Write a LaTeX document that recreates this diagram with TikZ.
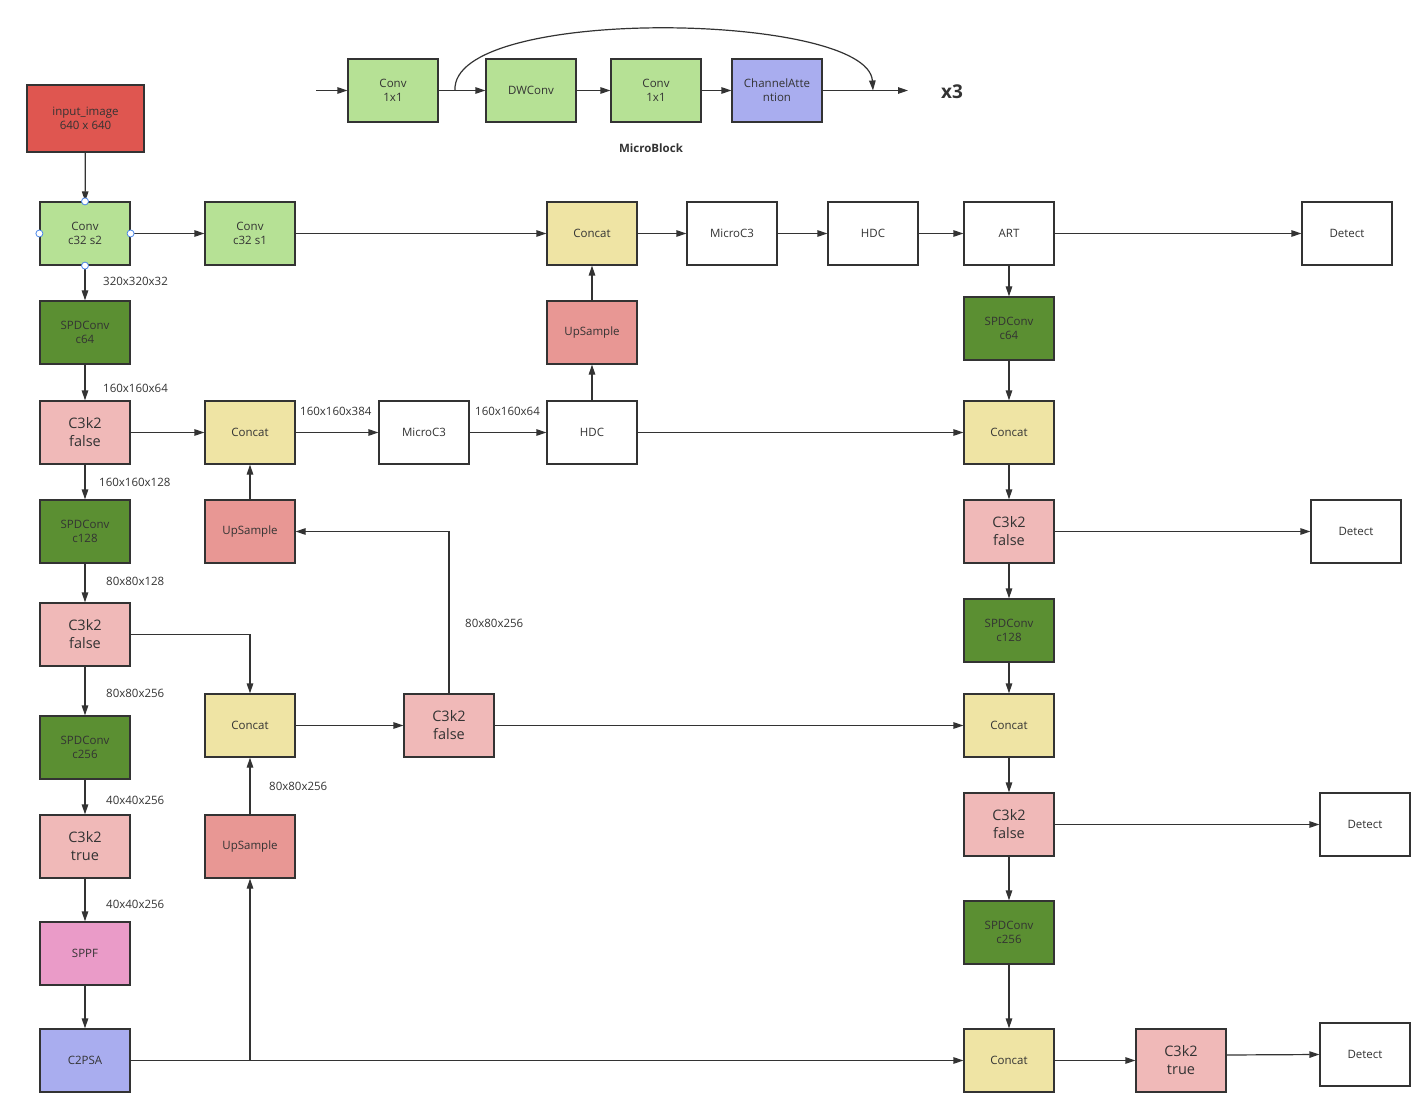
\documentclass[tikz,border=0pt]{standalone}
\usepackage{fontspec}
\setmainfont{Open Sans}
\usetikzlibrary{arrows.meta}
\definecolor{bordc}{HTML}{333333}
\definecolor{txtc}{HTML}{333333}
\definecolor{linec}{HTML}{333333}
\definecolor{convc}{HTML}{B6E195}
\definecolor{inc}{HTML}{DF5650}
\definecolor{spdc}{HTML}{5B8F32}
\definecolor{pinkc}{HTML}{F0B9B8}
\definecolor{catc}{HTML}{EFE4A4}
\definecolor{upc}{HTML}{E89794}
\definecolor{sppfc}{HTML}{EA9BC8}
\definecolor{psac}{HTML}{A9ADEF}
\definecolor{handc}{HTML}{4A86E8}
\begin{document}
\begin{tikzpicture}[x=1pt,y=-1pt,
  blk/.style={draw=bordc, line width=1.2pt, minimum width=90pt, minimum height=63pt, inner sep=0pt, align=center, font=\fontsize{11.5}{14}\selectfont, text=txtc},
  wbox/.style={blk, fill=white},
  conv/.style={blk, fill=convc},
  spd/.style={blk, fill=spdc},
  c3/.style={blk, fill=pinkc, font=\fontsize{14.5}{18}\selectfont},
  cat/.style={blk, fill=catc},
  ups/.style={blk, fill=upc},
  arr/.style={draw=linec, line width=1.2pt, -{Triangle[length=10pt,width=6.5pt]}},
  lbl/.style={font=\fontsize{11.5}{14}\selectfont, text=txtc, inner sep=0pt, anchor=west},
  handle/.style={circle, draw=handc, fill=white, line width=0.8pt, minimum size=7pt, inner sep=0pt}
]
\useasboundingbox (0,0) rectangle (1425,1102);

% MicroBlock
\coordinate (mbin) at (316,90.5);
\node[conv] (mb1) at (393,90.5) {Conv\\1x1};
\node[conv] (mb2) at (531,90.5) {DWConv};
\node[conv] (mb3) at (656,90.5) {Conv\\1x1};
\node[blk, fill=psac] (mb4) at (777,90.5) {ChannelAtte\\ntion};
\coordinate (mbsplit) at (455,90.5);
\coordinate (mbjoin) at (873,90.5);
\coordinate (mbout) at (908,90.5);
\node[font=\bfseries\fontsize{19}{22}\selectfont, text=txtc] (x3) at (952,92) {x3};
\node[font=\bfseries\fontsize{11.5}{14}\selectfont, text=txtc] (mbl) at (651,148) {MicroBlock};
\draw[arr] (mbin) -- (mb1);
\draw[arr] (mb1) -- (mb2);
\draw[arr] (mb2) -- (mb3);
\draw[arr] (mb3) -- (mb4);
\draw[arr] (mb4) -- (mbout);
\draw[arr] (mbsplit) .. controls (450,5) and (868,12) .. (mbjoin);

% Left column
\node[blk, fill=inc, minimum width=117pt, minimum height=67pt] (inp) at (85.5,118.5) {input\_image\\640 x 640};
\node[conv] (cv1) at (85,233.5) {Conv\\c32 s2};
\node[spd] (spd64) at (85,332.5) {SPDConv\\c64};
\node[c3] (c3a) at (85,432.5) {C3k2\\false};
\node[spd] (spd128) at (85,531.5) {SPDConv\\c128};
\node[c3] (c3b) at (85,634.5) {C3k2\\false};
\node[spd] (spd256) at (85,747.5) {SPDConv\\c256};
\node[c3] (c3t) at (85,846.5) {C3k2\\true};
\node[blk, fill=sppfc] (sppf) at (85,953.5) {SPPF};
\node[blk, fill=psac] (psa) at (85,1060.5) {C2PSA};

% second column
\node[conv] (cv2) at (250,233.5) {Conv\\c32 s1};
\node[cat] (cat2) at (250,432.5) {Concat};
\node[ups] (up2) at (250,531.5) {UpSample};
\node[cat] (cat3) at (250,725.5) {Concat};
\node[ups] (up3) at (250,846.5) {UpSample};

% middle
\node[wbox] (mc2) at (424,432.5) {MicroC3};
\node[c3] (c3m) at (449,725.5) {C3k2\\false};
\node[cat] (cat1) at (592,233.5) {Concat};
\node[ups] (up1) at (592,332.5) {UpSample};
\node[wbox] (hdc2) at (592,432.5) {HDC};
\node[wbox] (mc1) at (732,233.5) {MicroC3};
\node[wbox] (hdc1) at (873,233.5) {HDC};

% right column
\node[wbox] (art) at (1009,233.5) {ART};
\node[spd] (spdr64) at (1009,328.5) {SPDConv\\c64};
\node[cat] (catr1) at (1009,432.5) {Concat};
\node[c3] (c3r1) at (1009,531.5) {C3k2\\false};
\node[spd] (spdr128) at (1009,630.5) {SPDConv\\c128};
\node[cat] (catr2) at (1009,725.5) {Concat};
\node[c3] (c3r2) at (1009,824.5) {C3k2\\false};
\node[spd] (spdr256) at (1009,932.5) {SPDConv\\c256};
\node[cat] (catr3) at (1009,1060.5) {Concat};
\node[c3] (c3r3) at (1181,1060.5) {C3k2\\true};

% detects
\node[wbox] (det1) at (1347,233.5) {Detect};
\node[wbox] (det2) at (1356,531.5) {Detect};
\node[wbox] (det3) at (1365,824.5) {Detect};
\node[wbox] (det4) at (1365,1054.5) {Detect};

% labels
\node[lbl] (l1) at (103,281) {320x320x32};
\node[lbl] (l2) at (103,388) {160x160x64};
\node[lbl] (l3) at (99,482) {160x160x128};
\node[lbl] (l4) at (106,581) {80x80x128};
\node[lbl] (l5) at (106,693) {80x80x256};
\node[lbl] (l6) at (106,800) {40x40x256};
\node[lbl] (l7) at (106,904) {40x40x256};
\node[lbl] (l8) at (300,411) {160x160x384};
\node[lbl] (l9) at (475,411) {160x160x64};
\node[lbl] (l10) at (465,623) {80x80x256};
\node[lbl] (l11) at (269,786) {80x80x256};

% connectors
\draw[arr] (inp) -- (cv1);
\draw[arr] (cv1) -- (cv2);
\draw[arr] (cv1) -- (spd64);
\draw[arr] (spd64) -- (c3a);
\draw[arr] (c3a) -- (spd128);
\draw[arr] (spd128) -- (c3b);
\draw[arr] (c3b) -- (spd256);
\draw[arr] (spd256) -- (c3t);
\draw[arr] (c3t) -- (sppf);
\draw[arr] (sppf) -- (psa);
\draw[arr] (c3a) -- (cat2);
\draw[arr] (c3b.east) -| (cat3.north);
\coordinate (j1) at (250,1060.5);
\draw[arr] (psa) -- (catr3);
\draw[arr] (j1) -- (up3);
\draw[arr] (up3) -- (cat3);
\draw[arr] (cat3) -- (c3m);
\draw[arr] (c3m) -- (catr2);
\draw[arr] (c3m.north) |- (up2.east);
\draw[arr] (up2) -- (cat2);
\draw[arr] (cat2) -- (mc2);
\draw[arr] (mc2) -- (hdc2);
\draw[arr] (hdc2) -- (up1);
\draw[arr] (hdc2) -- (catr1);
\draw[arr] (up1) -- (cat1);
\draw[arr] (cv2) -- (cat1);
\draw[arr] (cat1) -- (mc1);
\draw[arr] (mc1) -- (hdc1);
\draw[arr] (hdc1) -- (art);
\draw[arr] (art) -- (det1);
\draw[arr] (art) -- (spdr64);
\draw[arr] (spdr64) -- (catr1);
\draw[arr] (catr1) -- (c3r1);
\draw[arr] (c3r1) -- (det2);
\draw[arr] (c3r1) -- (spdr128);
\draw[arr] (spdr128) -- (catr2);
\draw[arr] (catr2) -- (c3r2);
\draw[arr] (c3r2) -- (det3);
\draw[arr] (c3r2) -- (spdr256);
\draw[arr] (spdr256) -- (catr3);
\draw[arr] (catr3) -- (c3r3);
\draw[arr] ([yshift=5.5pt]c3r3.east) -- (det4.west);

% selection handles
\node[handle] (h1) at (cv1.north) {};
\node[handle] (h2) at (cv1.south) {};
\node[handle] (h3) at (cv1.west) {};
\node[handle] (h4) at (cv1.east) {};
\end{tikzpicture}
\end{document}
